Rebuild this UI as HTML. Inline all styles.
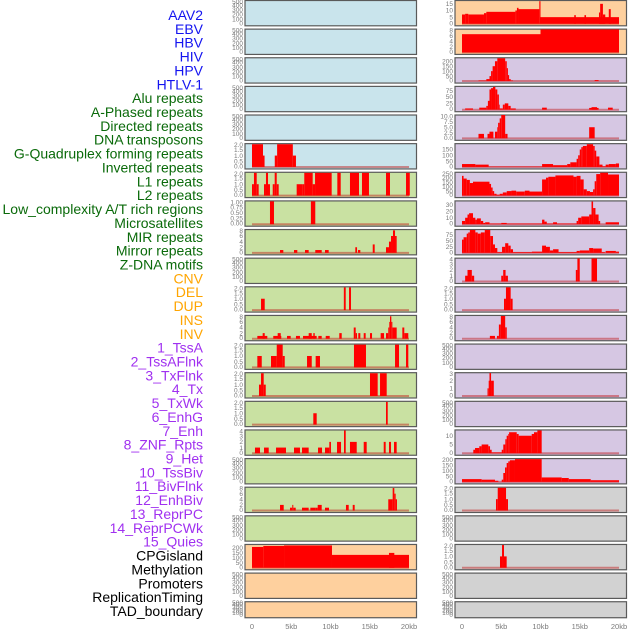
<!DOCTYPE html>
<html><head><meta charset="utf-8"><style>
html,body{margin:0;padding:0;background:#fff;}
svg{display:block;font-family:"Liberation Sans",sans-serif;}
</style></head><body>
<svg id="chart" width="630" height="630" viewBox="0 0 630 630" xmlns="http://www.w3.org/2000/svg"></svg>
<script>
const features = ["AAV2","EBV","HBV","HIV","HPV","HTLV-1","Alu repeats","A-Phased repeats","Directed repeats","DNA transposons","G-Quadruplex forming repeats","Inverted repeats","L1 repeats","L2 repeats","Low_complexity A/T rich regions","Microsatellites","MIR repeats","Mirror repeats","Z-DNA motifs","CNV","DEL","DUP","INS","INV","1_TssA","2_TssAFlnk","3_TxFlnk","4_Tx","5_TxWk","6_EnhG","7_Enh","8_ZNF_Rpts","9_Het","10_TssBiv","11_BivFlnk","12_EnhBiv","13_ReprPC","14_ReprPCWk","15_Quies","CPGisland","Methylation","Promoters","ReplicationTiming","TAD_boundary"];
const labelColors = ["#1414f0","#1414f0","#1414f0","#1414f0","#1414f0","#1414f0",
 "#0a6a0a","#0a6a0a","#0a6a0a","#0a6a0a","#0a6a0a","#0a6a0a","#0a6a0a","#0a6a0a","#0a6a0a","#0a6a0a","#0a6a0a","#0a6a0a","#0a6a0a",
 "#ffa500","#ffa500","#ffa500","#ffa500","#ffa500",
 "#a030f0","#a030f0","#a030f0","#a030f0","#a030f0","#a030f0","#a030f0","#a030f0","#a030f0","#a030f0","#a030f0","#a030f0","#a030f0","#a030f0","#a030f0",
 "#000","#000","#000","#000","#000"];
// panel data: left column = features 0..21, right = 22..43
// y max per panel
const yMax = [500,500,500,500,500,2.05, 2.05,1.02,8.3,500,2.05,8.3,2.05,2.05,2.05,4.1,500,8.3,500,235,500,500,
              17.5,8.3,235,92,10.5,200,260,36,97,4.05,2.05,8.2,500,3.05,500,13.3,210,2.05,500,2.05,500,500];
// tick spec [step, count, decimals]
const tickSpec = [[100,6,0],[100,6,0],[100,6,0],[100,6,0],[100,6,0],[0.5,5,1],
 [0.5,5,1],[0.25,5,2],[2,5,0],[100,6,0],[0.5,5,1],[2,5,0],[0.5,5,1],[0.5,5,1],[0.5,5,1],[1,5,0],[100,6,0],[2,5,0],[100,6,0],[50,5,0],[100,6,0],[100,6,0],
 [5,4,0],[2,5,0],[50,5,0],[25,4,0],[2.5,5,1],[50,4,0],[50,6,0],[10,4,0],[25,4,0],[1,5,0],[0.5,5,1],[2,5,0],[100,6,0],[1,4,0],[100,6,0],[5,3,0],[50,5,0],[0.5,5,1],[100,6,0],[0.5,5,1],[100,6,0],[100,6,0]];
// segments [startKb, endKb, value]
const segHTLV1 = [[0,1.4,2],[1.4,1.6,1],[2.9,3.2,1],[3.2,5.2,2],[5.2,5.6,1]];
const segAlu = [[0,0.25,1],[0.25,0.6,2],[0.6,0.85,1],[1.53,1.78,1],[1.78,2.04,2],[2.04,2.29,1],[2.64,2.89,1],[2.89,3.15,2],[3.15,3.4,1],[5.69,6.41,1],[6.41,6.66,1],[6.66,7.73,2],[7.73,8.03,1],[8.03,10.15,2],[10.87,11.3,2],[12.48,13.63,2],[14.01,14.9,2],[17.07,17.58,2],[19.62,20.1,2]];
const segAPhased = [[2.29,2.8,1],[7.5,8.06,1]];
const segDirected = [[3.57,3.99,1],[5.35,5.77,1],[6.75,7.22,1],[8.06,8.88,1],[9.3,9.77,1],[13.16,13.38,2],[13.5,13.8,1],[15.38,15.63,3],[17.07,17.45,2],[17.45,17.71,4],[17.71,17.96,6],[17.96,18.22,8],[18.22,18.43,6]];
const segGQuad = [[1.15,1.62,1],[11.7,11.94,2],[12.36,12.61,2]];
const segInverted = [[0.68,1.95,1],[1.36,1.62,2],[2.71,3.73,1],[3.27,3.66,2],[4.46,4.93,1],[5.6,6.11,1],[6.5,8.24,1],[7.22,7.61,2],[7.81,7.99,2],[8.45,8.88,1],[9.39,9.9,1],[11.12,11.43,2],[12.96,13.21,4],[13.21,13.38,2],[13.54,13.8,2],[14.23,14.48,2],[15.03,15.29,2],[16.39,16.82,2],[17.07,17.36,2],[17.36,17.49,4],[17.49,17.58,6],[17.58,17.75,8],[17.75,17.88,6],[17.88,18.43,4],[19.15,19.4,4],[19.4,19.91,2]];
const segL1 = [[0.68,1.24,1],[2.42,3.15,1],[3.15,3.91,2],[3.91,4.17,1],[7.01,7.61,1],[8.11,8.66,1],[12.99,14.52,2],[18.22,18.73,2],[19.62,19.91,2]];
const segL2 = [[0.89,1.15,1],[1.15,1.49,2],[1.49,1.75,1],[15.03,16.01,2],[16.31,17.16,2]];
const segLowComp = [[7.81,8.24,1],[17.07,17.29,2]];
const segMicrosat = [[0.38,1.02,1],[1.53,2.13,1],[3.06,4.33,1],[5.35,6.11,1],[6.37,7.22,1],[8.41,8.92,1],[9.3,9.85,1],[9.85,10.06,2],[10.83,11.34,2],[11.72,11.94,4],[12.48,13.34,2],[14.23,14.61,2],[16.78,17.03,2],[17.45,17.71,2],[18.09,18.43,2]];
const segMirror = [[3.57,4.04,2],[4.84,5.13,1],[5.13,5.26,2],[5.26,5.57,1],[6.37,7.22,1],[7.43,8.06,1],[8.06,8.37,1],[8.37,8.88,2],[9.3,9.81,1],[11.97,12.32,2],[12.83,13.08,2],[17.36,17.92,4],[17.92,18.13,8],[18.13,18.3,6],[18.3,18.47,4]];
const segCNV = [[0,1.44,210],[1.44,4.08,220],[4.08,10.19,225],[10.19,20,130],[17.45,18.13,150]];
const segINS = [[0,0.4,7],[0.4,0.8,7.5],[0.8,2.8,7],[2.8,3.1,8],[3.1,6.8,9],[6.8,7.0,10],[7.0,7.2,12],[7.2,9.85,11],[9.85,10.0,17],[10.0,20,5],[14.3,14.5,6.5],[15.6,15.8,6.5],[17.45,17.6,8.5],[17.6,17.95,15],[17.95,18.25,7],[18.7,18.95,11]];
const segINV = [[0,10,6.5],[10,20,8.2]];
const segTssA = [[2.1,3.1,5],[3.1,3.5,20],[3.5,3.7,50],[3.7,3.9,100],[3.9,4.2,150],[4.2,4.5,200],[4.5,5.5,230],[5.5,5.7,200],[5.7,5.85,130],[5.85,6.0,60],[6.0,6.2,20],[6.2,6.5,5],[16.9,17.4,10]];
const segTssAFlnk = [[0.4,1.4,5],[2.2,3.1,8],[3.1,3.3,15],[3.3,3.5,35],[3.5,3.7,80],[3.7,3.95,85],[3.95,4.25,90],[4.25,4.5,80],[4.5,4.7,60],[4.7,4.8,20],[4.8,5.2,5],[5.2,5.45,20],[5.45,5.9,25],[5.9,6.2,15],[6.2,6.85,5],[10.2,10.8,8],[16.2,17.4,7],[16.5,17.2,10],[18.6,19.2,8]];
const segTxFlnk = [[2.1,2.8,2],[3.25,3.5,2],[3.5,4.0,3],[4.2,4.5,3],[4.5,4.6,5],[4.6,4.8,7],[4.8,5.0,9],[5.0,5.5,10.5],[5.5,5.8,2],[16.2,16.9,5]];
const segTx = [[0,1.7,25],[1.7,3.4,20],[3.4,10.2,3],[10.2,11.6,25],[11.6,13.4,15],[13.4,13.8,25],[13.8,14.6,40],[14.6,14.8,70],[14.8,15.0,100],[15.0,15.2,150],[15.2,15.4,170],[15.4,15.9,180],[15.9,16.7,195],[16.7,16.9,180],[16.9,17.1,140],[17.1,17.5,90],[17.5,17.9,20],[17.9,18.3,5],[18.3,18.7,20],[18.7,19.6,25],[19.6,20,30]];
const segTxWk = [[0,0.2,220],[0.2,0.6,190],[0.6,1.0,175],[1.0,1.4,140],[1.4,3.5,155],[3.5,3.7,130],[3.7,3.9,90],[3.9,4.1,50],[4.1,4.4,20],[4.4,4.8,10],[4.8,5.2,20],[5.2,5.7,35],[5.7,6.3,50],[6.3,6.9,55],[6.9,8.0,45],[8.0,8.6,55],[8.6,10.2,45],[10.2,10.7,180],[10.7,11.0,200],[11.0,11.9,210],[11.9,14.2,225],[14.2,14.6,210],[14.6,15.1,220],[15.1,15.5,180],[15.5,15.9,70],[15.9,16.3,50],[16.3,16.7,40],[16.7,16.9,70],[16.9,17.1,160],[17.1,17.6,240],[17.6,18.6,255],[18.6,20,235]];
const segEnhG = [[0,0.4,5],[0.4,0.7,10],[0.7,0.9,15],[0.9,1.4,17],[1.4,1.7,10],[1.7,1.9,7],[1.9,2.4,9],[2.4,2.7,5],[2.7,2.95,2],[2.95,3.5,3],[3.5,5.0,1],[5.0,5.7,2],[5.7,10.2,1],[10.2,10.5,7],[10.5,10.8,4],[10.8,11.6,1],[11.6,12.1,3],[12.1,14.6,1],[14.6,14.8,5],[14.8,15.2,10],[15.2,16.2,12],[16.2,16.5,15],[16.5,16.7,35],[16.7,17.0,25],[17.0,17.4,15],[17.4,17.6,5],[18.3,20,3]];
const segEnh = [[0,0.2,55],[0.2,0.6,65],[0.6,0.8,80],[0.8,1.0,85],[1.0,1.7,95],[1.7,2.0,85],[2.0,2.4,80],[2.4,2.9,85],[2.9,3.6,95],[3.6,3.95,70],[3.95,4.2,35],[4.2,4.5,20],[4.5,5.1,3],[5.1,5.5,25],[5.5,5.9,40],[5.9,6.2,30],[6.2,6.5,15],[6.5,8.9,3],[8.9,10.2,5],[10.2,10.7,30],[10.7,11.2,25],[11.2,11.6,10],[11.6,12.3,15],[12.3,14.6,3],[14.6,15.0,8],[15.0,16.2,10],[16.2,16.7,20],[16.7,17.8,18],[17.8,18.2,3],[18.3,19.6,8],[19.6,20,5]];
const segZNF = [[0.4,0.7,1],[0.7,1.25,2],[1.25,1.55,1],[5.0,5.25,1],[5.25,5.55,2],[5.55,5.85,1],[14.5,14.7,2],[14.7,15.0,4],[16.5,17.2,4]];
const segHet = [[5.35,5.6,1],[5.6,6.2,2],[6.2,6.45,1]];
const segTssBiv = [[3.55,4.2,1],[4.45,4.7,1],[4.7,4.95,5],[4.95,5.5,8],[5.5,5.7,4]];
const segEnhBiv = [[3.25,3.4,1],[3.4,3.5,2],[3.5,3.7,3],[3.7,4.05,2]];
const segReprPCWk = [[1.44,1.66,2],[1.66,2.2,3],[2.2,2.5,4],[2.5,3.35,5],[3.35,3.57,4],[3.57,3.78,2],[3.78,5.06,0.5],[5.06,5.26,2],[5.26,5.52,5],[5.52,5.69,8],[5.69,5.9,10],[5.9,6.0,11],[6.0,6.97,12],[6.97,7.22,11],[7.22,8.88,10],[8.88,9.17,11],[9.17,9.6,12],[9.6,10.15,13]];
const segQuies = [[0,2.5,25],[2.5,4.2,20],[4.2,4.63,10],[5.06,5.26,20],[5.26,5.48,80],[5.48,5.69,130],[5.69,5.9,170],[5.9,6.1,185],[6.1,6.75,195],[6.75,10.15,205],[10.15,12.7,40],[12.7,13.6,35],[13.6,16.4,25],[16.4,20,15]];
const segCPG = [[4.33,4.55,1],[4.55,5.61,2],[5.61,5.86,1]];
const segPromoters = [[4.84,5.1,1],[5.1,5.35,2],[5.35,5.69,1]];
const segments = [null,null,null,null,null,segHTLV1,segAlu,segAPhased,segDirected,null,segGQuad,segInverted,segL1,segL2,segLowComp,segMicrosat,null,segMirror,null,segCNV,null,null,
  segINS,segINV,segTssA,segTssAFlnk,segTxFlnk,segTx,segTxWk,segEnhG,segEnh,segZNF,segHet,segTssBiv,null,segEnhBiv,null,segReprPCWk,segQuies,segCPG,null,segPromoters,null,null];
const xTickValues = [0,5,10,15,20];
const xTickLabels = ["0","5kb","10kb","15kb","20kb"];

const NS = "http://www.w3.org/2000/svg";
const svg = document.getElementById("chart");
function mk(tag, attrs, parent){const e=document.createElementNS(NS,tag);for(const k in attrs)e.setAttribute(k,attrs[k]);(parent||svg).appendChild(e);return e;}
const BG = {blue:"#c9e4ec",green:"#c9e1a2",orange:"#fed09e",purple:"#d6c7e3",grey:"#d2d2d2"};
function bgFor(i){ if(i<6) return BG.blue; if(i<19) return BG.green; if(i<24) return BG.orange; if(i<39) return BG.purple; return BG.grey; }

// feature labels
features.forEach((f,i)=>{
  const t = mk("text",{x:203,y:(15+i*13.86+5).toFixed(1),"text-anchor":"end","font-size":"14",fill:labelColors[i]});
  
  
  t.textContent = f;
});

for(let p=0;p<44;p++){
  const col = p<22?0:1, row = p%22;
  const left = col?455:245, right = col?626.5:416.5, x0 = col?462:252;
  const top = row*28.63, h = row<21?25.3:16;
  const bottom = top+h;
  const xs = kb => x0 + kb*7.85;
  const ys = v => (bottom-1.5) - v/yMax[p]*(h-2);
  const g = mk("g",{});
  
  
  mk("rect",{x:left,y:top+0.5,width:right-left,height:h,fill:bgFor(p),stroke:"#5a5a5a","stroke-width":"1.2"},g);
  const segs = segments[p];
  if(segs){
    mk("line",{x1:xs(0),x2:xs(20),y1:ys(0),y2:ys(0),stroke:"rgba(190,20,20,0.45)","stroke-width":"2"},g);
    segs.forEach(s=>{
      const r = mk("rect",{x:xs(s[0]).toFixed(2),y:ys(s[2]).toFixed(2),width:Math.max(0.8,xs(s[1])-xs(s[0])).toFixed(2),height:(ys(0)-ys(s[2])).toFixed(2),fill:"#ff0000"},g);
      
      
    });
  }
  const ts = tickSpec[p];
  for(let k=0;k<ts[1];k++){
    const v = ts[0]*k;
    const ty = Math.min(bottom, Math.max(top+4, ys(v)+2.2));
    const t = mk("text",{x:left-2,y:ty.toFixed(1),"text-anchor":"end","font-size":"6.5",fill:"#7a7a7a"},g);
    
    
    t.textContent = v.toFixed(ts[2]);
  }
}
// x axes
[252,462].forEach(x0=>{
  xTickValues.forEach((v,i)=>{
    const t = mk("text",{x:x0+v*7.85,y:629,"text-anchor":"middle","font-size":"7.5",fill:"#7a7a7a"});
    
    
    t.textContent = xTickLabels[i];
  });
});
</script>
</body></html>
